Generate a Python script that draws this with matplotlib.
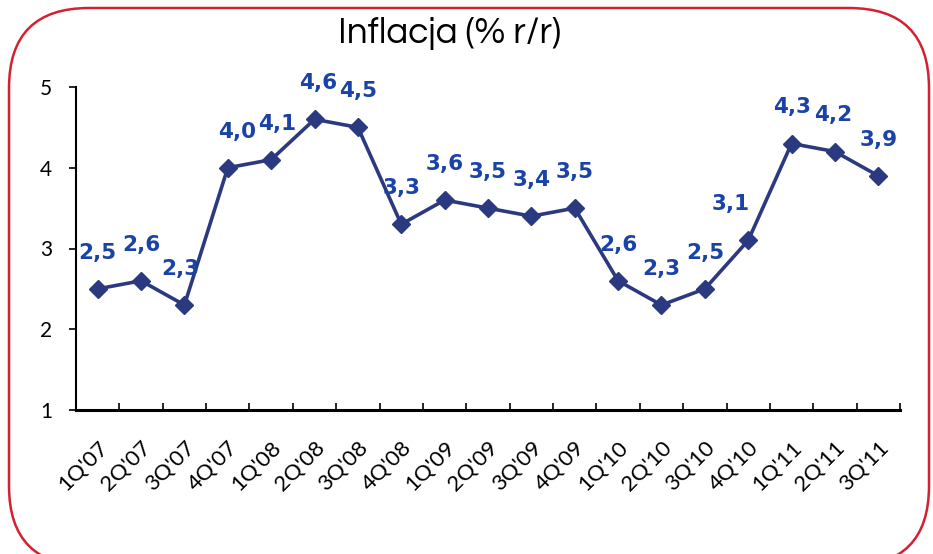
import matplotlib
matplotlib.use("Agg")
import matplotlib.pyplot as plt
from matplotlib.patches import FancyBboxPatch
import numpy as np

categories = ["1Q'07", "2Q'07", "3Q'07", "4Q'07", "1Q'08", "2Q'08", "3Q'08", "4Q'08",
              "1Q'09", "2Q'09", "3Q'09", "4Q'09", "1Q'10", "2Q'10", "3Q'10", "4Q'10",
              "1Q'11", "2Q'11", "3Q'11"]
values = [2.5, 2.6, 2.3, 4.0, 4.1, 4.6, 4.5, 3.3, 3.6, 3.5, 3.4, 3.5, 2.6, 2.3, 2.5, 3.1,
          4.3, 4.2, 3.9]
title = "Inflacja (% r/r)"
yticks = [1, 2, 3, 4, 5]

title_font = ["Questrial", "DejaVu Sans"]
tick_font = ["Lato", "DejaVu Sans"]
label_font = ["DejaVu Sans"]

fig = plt.figure(figsize=(9.33, 5.54), dpi=100)

# background axes in pixel coordinates for the rounded red frame
bg = fig.add_axes([0, 0, 1, 1], zorder=-1)
bg.set_xlim(0, 933)
bg.set_ylim(0, 554)
bg.axis("off")
frame = FancyBboxPatch((9, -12), 920, 554 - 8 + 12, boxstyle="round,pad=0,rounding_size=80",
                       fill=False, edgecolor="#d42030", linewidth=1.8)
bg.add_patch(frame)

ax = fig.add_axes([76/933, 1-410/554, (900-76)/933, (410-87)/554])
ax.patch.set_alpha(0)

x = np.arange(len(categories))
ax.plot(x, values, color="#2b3a80", linewidth=2.6, marker="D", markersize=9,
        markerfacecolor="#2b3a80", markeredgecolor="#2b3a80", zorder=3, clip_on=False)

dx = [0, 0, -4, 9, 6, 4, 0, 0, 0, 0, 0, 0, 0, 0, 0, -18, 0, -2, 0]
for xi, v, d in zip(x, values, dx):
    ax.annotate(f"{v:.1f}".replace(".", ","), (xi, v), xytext=(d * 0.72, 26),
                textcoords="offset points", ha="center", va="center",
                fontsize=15.5, fontweight="bold", color="#1a43a8", family=label_font)

ax.set_xlim(-0.5, len(categories) - 0.5)
ax.set_ylim(1, 5)
ax.set_yticks(yticks)
ax.set_yticklabels([str(t) for t in yticks], fontsize=15, family=tick_font)
ax.tick_params(axis="y", direction="out", length=5, width=1.2, pad=12)

ax.set_xticks(x)
ax.set_xticklabels(categories, rotation=45, ha="right", rotation_mode="anchor",
                   fontsize=16, family=tick_font)
ax.tick_params(axis="x", which="major", length=0, pad=20)
ax.set_xticks(np.arange(-0.5, len(categories)), minor=True)
ax.tick_params(axis="x", which="minor", direction="in", length=5, width=1.2)

for s in ["top", "right"]:
    ax.spines[s].set_visible(False)
ax.spines["left"].set_linewidth(1.5)
ax.spines["bottom"].set_linewidth(2.2)

fig.text(449/933, 1-34/554, title, ha="center", va="center", fontsize=26.5, family=title_font)

fig.savefig("out.png", dpi=100)
